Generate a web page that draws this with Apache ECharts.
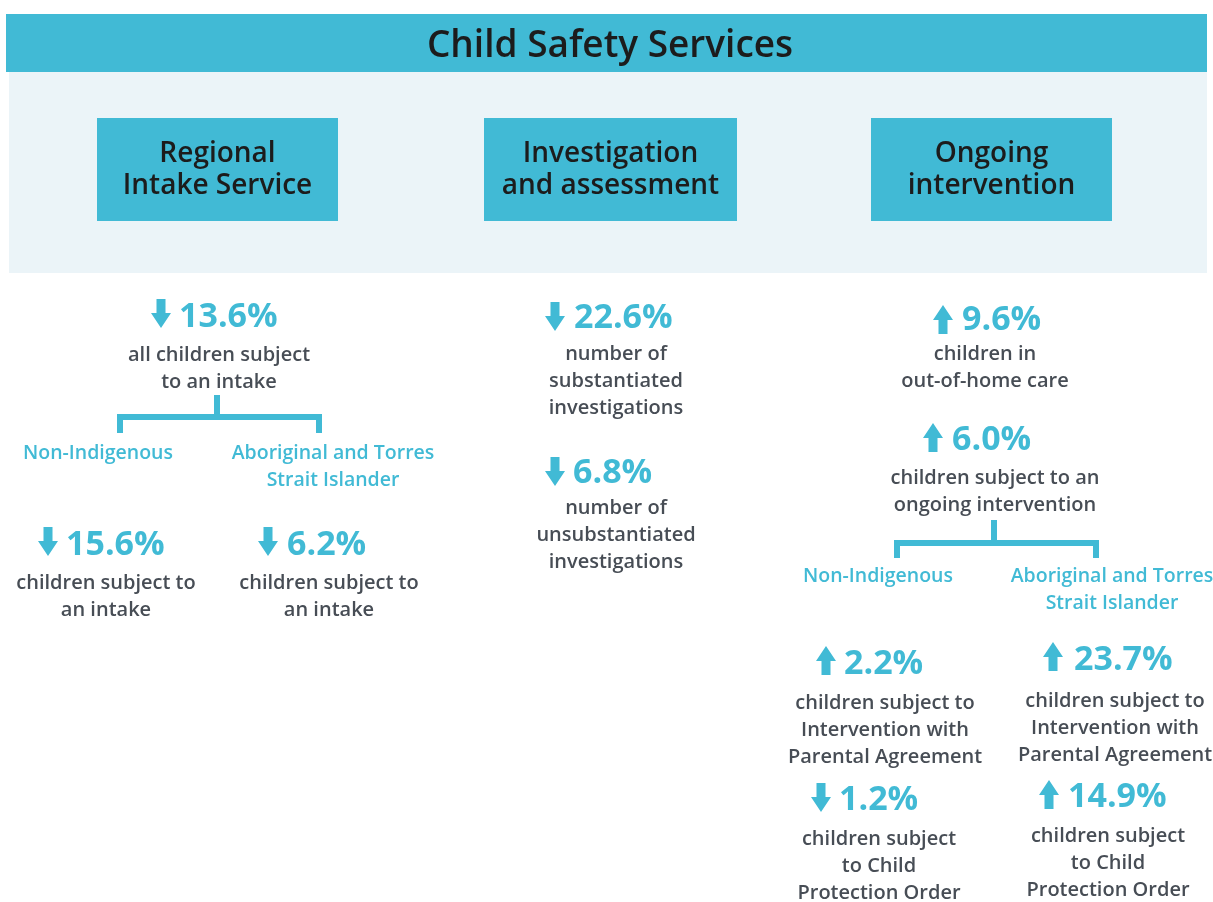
<!DOCTYPE html>
<html>
<head>
<meta charset="utf-8">
<title>Child Safety Services</title>
<script src="https://cdn.jsdelivr.net/npm/echarts@6.0.0/dist/echarts.min.js"></script>
<style>
  html, body { margin: 0; padding: 0; background: #fff; }
  #chart { width: 1213px; height: 902px; }
</style>
</head>
<body>
<div id="chart"></div>
<script>
// ---- data ----
var pageTitle = 'Child Safety Services';
var stageNames = ['Regional\nIntake Service', 'Investigation\nand assessment', 'Ongoing\nintervention'];
var groupNames = ['Non-Indigenous', 'Aboriginal and Torres\nStrait Islander'];

var changeValues = [13.6, 15.6, 6.2, 22.6, 6.8, 9.6, 6.0, 2.2, 23.7, 1.2, 14.9];
var changeDirections = ['down', 'down', 'down', 'down', 'down', 'up', 'up', 'up', 'up', 'down', 'up'];
var changeLabels = [
    ['all children subject', 'to an intake'],
    ['children subject to', 'an intake'],
    ['children subject to', 'an intake'],
    ['number of', 'substantiated', 'investigations'],
    ['number of', 'unsubstantiated', 'investigations'],
    ['children in', 'out-of-home care'],
    ['children subject to an', 'ongoing intervention'],
    ['children subject to', 'Intervention with', 'Parental Agreement'],
    ['children subject to', 'Intervention with', 'Parental Agreement'],
    ['children subject', 'to Child', 'Protection Order'],
    ['children subject', 'to Child', 'Protection Order']
];

// ---- layout (positions only) ----
var TEAL = '#41bad5';
var DARK = '#1c1c1c';
var GREY = '#474d55';
var FONT = '"Open Sans", "Noto Sans", sans-serif';

// [arrowX, arrowY, valueX, valueCY, labelCX, labelFirstCY]
var statLayout = [
    [151, 299, 179, 317, 219, 355],
    [38, 527, 66, 545, 106, 583],
    [258, 527, 287, 545, 329, 583],
    [545, 302, 574, 318, 616, 354],
    [545, 457, 573, 473, 616, 508],
    [933, 305, 962, 320, 985, 354],
    [923, 423, 952, 440, 995, 478],
    [816, 646, 844, 664, 885, 703],
    [1043, 642, 1074, 660, 1115, 701],
    [811, 783, 839, 800, 879, 839],
    [1039, 780, 1068, 797, 1108, 836]
];
var stageBoxes = [[97, 118, 241, 103], [484, 118, 253, 103], [871, 118, 241, 103]];
// [stemX, stemTop, barY, leftX, rightX, legBottom, leftLabelCX, rightLabelCX, labelCY]
var brackets = [
    [217, 395, 417, 120, 319, 433, 98, 333, 453],
    [994, 520, 543, 897, 1096, 558, 878, 1112, 576]
];

var LINE_H = 27;

var downArrow = [[5.5, 0], [14.5, 0], [14.5, 14], [20, 14], [10, 29], [0, 14], [5.5, 14]];
var upArrow = [[10, 0], [20, 15], [14.5, 15], [14.5, 29], [5.5, 29], [5.5, 15], [0, 15]];

var elements = [];

// title band and panel
elements.push({ type: 'rect', shape: { x: 9, y: 72, width: 1198, height: 201 }, style: { fill: '#ebf4f8' } });
elements.push({ type: 'rect', shape: { x: 6, y: 14, width: 1201, height: 58 }, style: { fill: TEAL } });
elements.push({
    type: 'text',
    style: { text: pageTitle, x: 610, y: 46, align: 'center', verticalAlign: 'middle',
        fontSize: 37, fontWeight: 600, fontFamily: FONT, fill: DARK }
});

// stage boxes
stageNames.forEach(function (name, i) {
    var b = stageBoxes[i];
    elements.push({ type: 'rect', shape: { x: b[0], y: b[1], width: b[2], height: b[3] }, style: { fill: TEAL } });
    elements.push({
        type: 'text',
        style: { text: name, x: b[0] + b[2] / 2, y: 170, align: 'center', verticalAlign: 'middle',
            fontSize: 28, fontWeight: 600, fontFamily: FONT, fill: DARK, lineHeight: 32 }
    });
});

// brackets and group names
brackets.forEach(function (k) {
    elements.push({ type: 'polyline', shape: { points: [[k[0], k[1]], [k[0], k[2]]] },
        style: { stroke: TEAL, lineWidth: 6, fill: null } });
    elements.push({ type: 'polyline', shape: { points: [[k[3], k[5]], [k[3], k[2]], [k[4], k[2]], [k[4], k[5]]] },
        style: { stroke: TEAL, lineWidth: 6, fill: null, lineJoin: 'miter' } });
    groupNames.forEach(function (g, j) {
        elements.push({
            type: 'text',
            style: { text: g, x: j === 0 ? k[6] : k[7], y: k[8] - LINE_H / 2, align: 'center', verticalAlign: 'top',
                fontSize: 19.5, fontWeight: 600, fontFamily: FONT, fill: TEAL, lineHeight: LINE_H }
        });
    });
});

// stats
changeValues.forEach(function (v, i) {
    var p = statLayout[i];
    elements.push({
        type: 'polygon',
        x: p[0], y: p[1],
        shape: { points: changeDirections[i] === 'down' ? downArrow : upArrow },
        style: { fill: TEAL }
    });
    elements.push({
        type: 'text',
        style: { text: v.toFixed(1) + '%', x: p[2], y: p[3], align: 'left', verticalAlign: 'middle',
            fontSize: 34, fontWeight: 'bold', fontFamily: FONT, fill: TEAL }
    });
    elements.push({
        type: 'text',
        style: { text: changeLabels[i].join('\n'), x: p[4], y: p[5] - LINE_H / 2, align: 'center', verticalAlign: 'top',
            fontSize: 20, fontWeight: 600, fontFamily: FONT, fill: GREY, lineHeight: LINE_H }
    });
});

var myChart = echarts.init(document.getElementById('chart'));
myChart.setOption({
    backgroundColor: '#fff',
    animation: false,
    graphic: { elements: elements }
});
</script>
</body>
</html>
